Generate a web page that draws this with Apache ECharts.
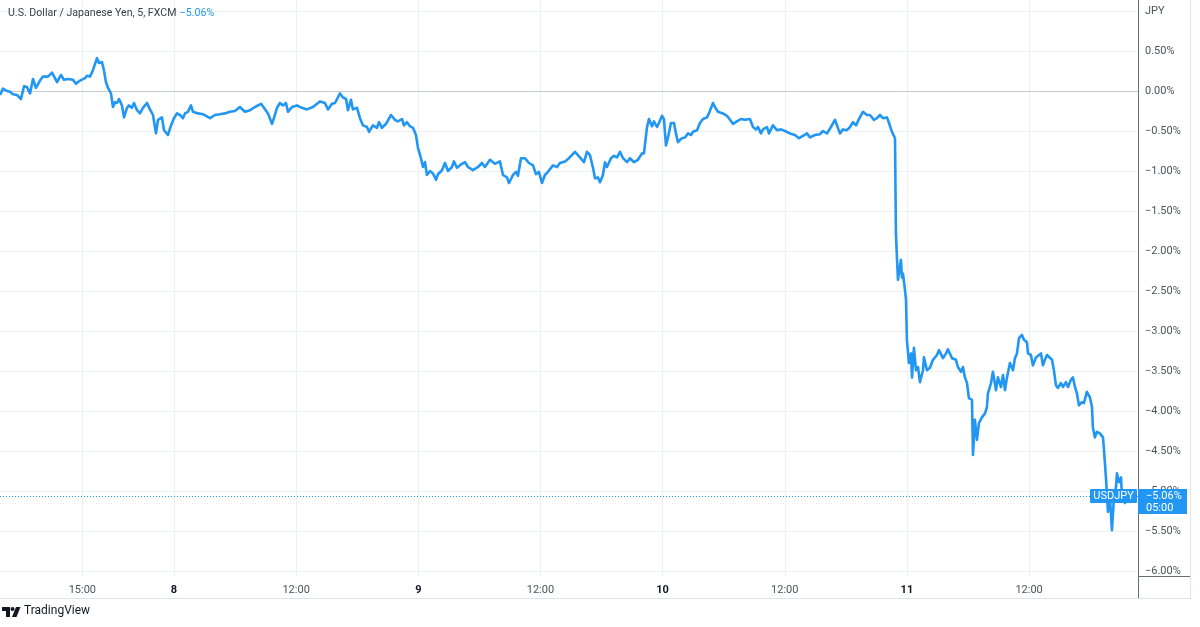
<!DOCTYPE html>
<html><head><meta charset="utf-8">
<script src="https://cdn.jsdelivr.net/npm/echarts@6/dist/echarts.min.js"></script>
<style>html,body{margin:0;padding:0;background:#fff}#c{width:1200px;height:627px}</style>
</head><body><div id="c"></div><script>
// time in hours since day 7 00:00
const hours = [6.91,7.20,7.60,7.89,8.18,8.58,8.97,9.27,9.56,9.86,10.15,10.44,10.84,11.13,11.62,12.02,12.31,12.51,12.90,13.19,13.59,14.08,14.37,14.77,15.26,15.45,15.75,16.04,16.44,16.63,16.93,17.12,17.32,17.52,17.81,18.01,18.20,18.40,18.60,18.89,19.09,19.38,19.58,19.87,20.07,20.37,20.66,20.95,21.35,21.64,21.94,22.23,22.43,22.82,23.02,23.41,23.71,24.00,24.29,24.59,24.88,25.08,25.38,25.67,25.87,26.36,26.85,27.54,28.03,28.52,29.01,29.50,29.99,30.48,30.97,31.47,31.96,32.55,32.84,33.23,33.63,33.82,34.12,34.41,34.71,35.00,35.20,35.59,36.08,36.57,37.06,37.65,38.34,38.83,39.13,39.52,39.82,40.01,40.31,40.60,40.90,41.09,41.39,41.58,41.98,42.27,42.57,42.96,43.16,43.55,43.94,44.14,44.43,44.83,45.32,45.71,46.00,46.40,46.59,46.89,47.18,47.48,47.77,47.97,48.26,48.46,48.66,48.85,49.15,49.44,49.74,49.93,50.33,50.62,50.92,51.31,51.50,51.80,52.29,52.59,52.88,53.37,53.86,54.26,54.55,55.04,55.53,56.02,56.32,56.71,56.91,57.30,57.60,57.79,58.09,58.48,58.87,59.27,59.56,59.85,60.15,60.44,60.74,61.23,61.62,61.92,62.41,62.80,63.39,63.88,64.28,64.57,64.86,65.16,65.36,65.65,65.85,66.14,66.34,66.53,66.93,67.22,67.52,67.81,68.11,68.50,68.79,69.19,69.58,69.97,70.17,70.46,70.66,70.96,71.15,71.45,71.64,71.94,72.13,72.33,72.53,72.82,73.12,73.31,73.51,73.90,74.20,74.49,74.79,74.98,75.38,75.67,75.97,76.36,76.55,76.95,77.14,77.44,77.93,78.32,78.62,78.91,79.30,79.70,80.09,80.58,80.88,81.17,81.37,81.66,81.86,82.25,82.45,82.84,83.23,83.63,84.02,84.51,85.00,85.40,85.79,86.18,86.48,86.97,87.46,87.75,88.15,88.54,88.93,89.13,89.42,89.72,90.11,90.41,90.70,91.00,91.29,91.68,92.07,92.37,92.76,93.06,93.35,93.65,94.04,94.24,94.53,94.83,94.92,95.02,95.12,95.41,95.51,95.61,95.81,95.91,96.00,96.20,96.40,96.50,96.69,96.89,97.09,97.28,97.58,97.67,97.97,98.26,98.56,98.95,99.15,99.54,99.84,100.03,100.43,100.82,101.01,101.31,101.51,101.70,101.90,102.09,102.39,102.49,102.68,102.88,103.08,103.37,103.67,103.86,103.96,104.26,104.45,104.75,104.94,105.24,105.44,105.63,105.83,106.12,106.42,106.61,106.81,107.01,107.30,107.50,107.79,107.89,108.18,108.38,108.68,108.87,109.17,109.36,109.56,109.76,109.95,110.25,110.44,110.64,110.84,111.13,111.33,111.62,111.82,112.11,112.31,112.51,112.70,112.90,113.19,113.39,113.68,113.98,114.18,114.27,114.47,114.67,114.96,115.26,115.36,115.55,115.75,115.95,116.14,116.34,116.54,116.63,116.83,117.03,117.12,117.22,117.42,117.61,117.91];
// change in %
const values = [-0.05,0.03,0.00,-0.01,-0.04,-0.05,-0.10,0.06,0.05,-0.03,0.15,0.04,0.13,0.18,0.18,0.23,0.16,0.11,0.20,0.14,0.15,0.14,0.09,0.13,0.16,0.19,0.18,0.26,0.41,0.35,0.36,0.26,0.11,0.04,-0.03,-0.20,-0.14,-0.15,-0.10,-0.18,-0.33,-0.21,-0.18,-0.21,-0.15,-0.24,-0.28,-0.21,-0.15,-0.23,-0.30,-0.53,-0.36,-0.33,-0.49,-0.55,-0.43,-0.34,-0.28,-0.30,-0.34,-0.28,-0.26,-0.18,-0.26,-0.28,-0.29,-0.34,-0.30,-0.29,-0.28,-0.26,-0.25,-0.20,-0.26,-0.24,-0.20,-0.16,-0.21,-0.28,-0.41,-0.34,-0.21,-0.15,-0.18,-0.15,-0.26,-0.20,-0.18,-0.21,-0.23,-0.20,-0.13,-0.15,-0.23,-0.16,-0.15,-0.14,-0.03,-0.08,-0.10,-0.24,-0.11,-0.23,-0.21,-0.34,-0.43,-0.45,-0.51,-0.43,-0.46,-0.39,-0.46,-0.41,-0.30,-0.36,-0.38,-0.35,-0.43,-0.39,-0.44,-0.46,-0.55,-0.71,-0.84,-0.95,-0.89,-1.05,-1.00,-1.03,-1.11,-1.04,-0.99,-0.90,-1.00,-0.95,-0.88,-0.96,-0.91,-0.89,-0.95,-0.99,-0.95,-0.90,-0.95,-0.86,-0.91,-0.88,-1.05,-1.08,-1.15,-1.05,-1.01,-1.06,-0.84,-0.84,-0.90,-0.93,-1.04,-1.01,-1.15,-1.05,-1.01,-0.93,-0.95,-0.90,-0.88,-0.84,-0.76,-0.83,-0.89,-0.76,-0.80,-0.96,-1.09,-1.08,-1.14,-1.05,-0.89,-0.95,-0.84,-0.81,-0.83,-0.76,-0.84,-0.89,-0.84,-0.89,-0.86,-0.78,-0.78,-0.46,-0.35,-0.44,-0.38,-0.45,-0.40,-0.31,-0.35,-0.68,-0.58,-0.40,-0.40,-0.53,-0.64,-0.59,-0.58,-0.53,-0.55,-0.51,-0.49,-0.40,-0.35,-0.33,-0.28,-0.15,-0.20,-0.26,-0.28,-0.31,-0.36,-0.41,-0.38,-0.35,-0.36,-0.35,-0.45,-0.48,-0.45,-0.53,-0.48,-0.45,-0.53,-0.43,-0.49,-0.48,-0.50,-0.53,-0.55,-0.59,-0.56,-0.53,-0.58,-0.55,-0.54,-0.50,-0.53,-0.45,-0.36,-0.43,-0.53,-0.48,-0.49,-0.45,-0.39,-0.43,-0.35,-0.26,-0.30,-0.30,-0.36,-0.34,-0.30,-0.34,-0.33,-0.40,-0.51,-0.59,-1.78,-2.08,-2.36,-2.11,-2.33,-2.28,-2.49,-2.61,-3.11,-3.40,-3.28,-3.58,-3.21,-3.49,-3.45,-3.64,-3.49,-3.33,-3.49,-3.46,-3.36,-3.30,-3.24,-3.34,-3.28,-3.23,-3.34,-3.36,-3.45,-3.51,-3.45,-3.58,-3.65,-3.84,-3.86,-4.55,-4.11,-4.36,-4.15,-4.08,-4.03,-3.95,-3.78,-3.65,-3.51,-3.74,-3.58,-3.70,-3.55,-3.74,-3.58,-3.40,-3.49,-3.34,-3.28,-3.09,-3.05,-3.11,-3.14,-3.28,-3.30,-3.43,-3.33,-3.34,-3.28,-3.43,-3.36,-3.30,-3.28,-3.36,-3.49,-3.68,-3.71,-3.65,-3.70,-3.64,-3.70,-3.61,-3.58,-3.70,-3.78,-3.93,-3.89,-3.90,-3.76,-3.83,-3.95,-4.21,-4.33,-4.26,-4.28,-4.33,-4.49,-4.83,-5.26,-5.09,-5.49,-5.08,-4.95,-4.78,-4.89,-4.83,-5.05,-5.09,-5.15,-5.09,-5.06];
const xTickHours = [15,24,36,48,60,72,84,96,108];
const yTicks = [-6,-5.5,-5,-4.5,-4,-3.5,-3,-2.5,-2,-1.5,-1,-0.5,0,0.5,1];
const firstDay = 7;
const titleText = 'U.S. Dollar / Japanese Yen, 5, FXCM';
const changeText = '\u22125.06%';
const symbolText = 'USDJPY';
const countdownText = '05:00';
const currencyText = 'JPY';

const FONT = 'Roboto, "Noto Sans", sans-serif';
const BLUE = '#2196f3';
const chart = echarts.init(document.getElementById('c'), null, {renderer: 'canvas'});
const data = hours.map((h, i) => [h, values[i]]);

function fmtPct(v) {
  if (Math.abs(v - 1) < 1e-9) return currencyText;
  const s = Math.abs(v).toFixed(2) + '%';
  return v < -1e-9 ? '\u2212' + s : s;
}
function fmtTime(h) {
  if (h % 24 === 0) return '{d|' + (firstDay + h / 24) + '}';
  const hh = h % 24;
  return (hh < 10 ? '0' : '') + hh + ':00';
}

chart.setOption({
  animation: false,
  backgroundColor: '#fff',
  grid: {left: 0, top: 0, width: 1138, height: 576, containLabel: false},
  xAxis: {
    type: 'value', min: 6.91, max: 118.7,
    axisLine: {show: true, lineStyle: {color: '#6a6d78', width: 1}},
    axisTick: {show: false, customValues: xTickHours},
    axisLabel: {customValues: xTickHours, formatter: fmtTime, color: '#50535e', fontSize: 11, fontFamily: FONT, margin: 9,
      rich: {d: {fontWeight: 'bold', color: '#131722', fontSize: 11, fontFamily: FONT}}},
    splitLine: {show: true, lineStyle: {color: '#edf0f6', width: 1}}
  },
  yAxis: {
    type: 'value', position: 'right', min: -6.0625, max: 1.1375,
    axisLine: {show: true, lineStyle: {color: '#6a6d78', width: 1}},
    axisTick: {show: false, customValues: yTicks},
    axisLabel: {customValues: yTicks, formatter: fmtPct, color: '#50535e', fontSize: 11, fontFamily: FONT, margin: 7, align: 'left'},
    splitLine: {show: true, lineStyle: {color: '#edf0f6', width: 1}}
  },
  series: [{
    type: 'line', data: data, showSymbol: false, symbol: 'none', z: 3,
    lineStyle: {color: BLUE, width: 2.6, join: 'round'}
  }]
});

const last = values[values.length - 1];
const yLast = chart.convertToPixel({yAxisIndex: 0}, last);
const yZero = chart.convertToPixel({yAxisIndex: 0}, 0);
const gridRight = 1138;

const g = [
  // frame
  {type: 'line', shape: {x1: 1190.5, y1: 0, x2: 1190.5, y2: 598}, style: {stroke: '#e0e3eb', lineWidth: 1}, z: 1},
  {type: 'line', shape: {x1: 0, y1: 598.5, x2: 1191, y2: 598.5}, style: {stroke: '#e0e3eb', lineWidth: 1}, z: 1},
  {type: 'line', shape: {x1: gridRight + 0.5, y1: 576, x2: gridRight + 0.5, y2: 598}, style: {stroke: '#6a6d78', lineWidth: 1}, z: 1},
  {type: 'line', shape: {x1: gridRight, y1: 576.5, x2: 1190, y2: 576.5}, style: {stroke: '#6a6d78', lineWidth: 1}, z: 1},
  // zero line
  {type: 'line', shape: {x1: 0, y1: Math.round(yZero) + 0.5, x2: gridRight, y2: Math.round(yZero) + 0.5}, style: {stroke: '#c7c9d0', lineWidth: 1}, z: 1},
  // last value dotted line
  {type: 'line', shape: {x1: 0, y1: Math.round(yLast) + 0.5, x2: gridRight, y2: Math.round(yLast) + 0.5}, style: {stroke: BLUE, lineWidth: 1, lineDash: [1, 2]}, z: 1},
  // title
  {type: 'text', left: 8, top: 7, style: {
    text: '{a|' + titleText + '} {b|' + changeText + '}',
    rich: {a: {fill: '#3b3d45', fontSize: 10.6, fontFamily: FONT}, b: {fill: BLUE, fontSize: 10.6, fontFamily: FONT}}
  }, z: 50},
  // symbol box
  {type: 'rect', shape: {x: 1090, y: Math.round(yLast) - 7, width: 47, height: 14, r: 1}, style: {fill: BLUE}, z: 100},
  {type: 'text', x: 1113.5, y: Math.round(yLast), style: {text: symbolText, fill: '#fff', font: '11px ' + FONT, align: 'center', verticalAlign: 'middle'}, z: 101},
  // price box on axis
  {type: 'rect', shape: {x: 1138, y: Math.round(yLast) - 7, width: 49, height: 25}, style: {fill: BLUE}, z: 100},
  {type: 'text', x: 1146, y: Math.round(yLast), style: {text: changeText, fill: '#fff', font: '11px ' + FONT, align: 'left', verticalAlign: 'middle'}, z: 101},
  {type: 'text', x: 1146, y: Math.round(yLast) + 12, style: {text: countdownText, fill: '#fff', font: '11px ' + FONT, align: 'left', verticalAlign: 'middle'}, z: 101},
  // TradingView logo
  {type: 'polygon', shape: {points: [[2, 607], [10, 607], [10, 617], [6, 617], [6, 611], [2, 611]]}, style: {fill: '#131722'}, z: 50},
  {type: 'circle', shape: {cx: 12.5, cy: 609, r: 2}, style: {fill: '#131722'}, z: 50},
  {type: 'polygon', shape: {points: [[16, 607], [20.5, 607], [16.5, 617], [12, 617]]}, style: {fill: '#131722'}, z: 50},
  {type: 'text', left: 24, top: 605, style: {text: 'TradingView', fill: '#131722', font: '12px ' + FONT}, z: 50}
];
if (hours.length !== values.length) {
  g.push({type: 'text', left: 400, top: 300, style: {text: 'LEN MISMATCH ' + hours.length + ' vs ' + values.length, fill: 'red', font: '20px sans-serif'}, z: 200});
}
chart.setOption({graphic: g});
</script></body></html>
